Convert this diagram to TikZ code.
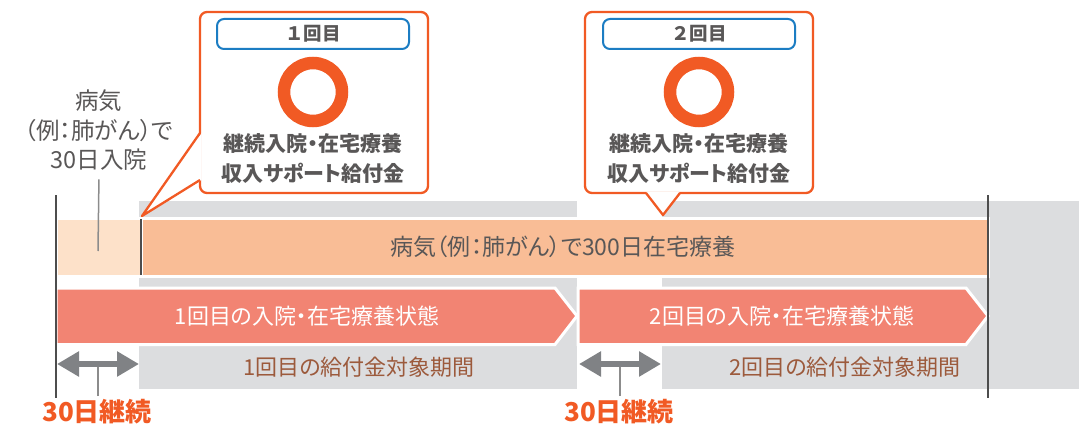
\documentclass[tikz,border=0pt]{standalone}
\usepackage{fontspec}
\setmainfont[RawFeature=+palt]{Noto Sans CJK JP}
\newfontfamily\tagfont{Noto Sans CJK JP}
\usetikzlibrary{arrows.meta,positioning}
\definecolor{bandgray}{RGB}{220,221,223}
\definecolor{peach}{RGB}{253,225,201}
\definecolor{homeorange}{RGB}{249,189,150}
\definecolor{stayred}{RGB}{242,132,115}
\definecolor{linedark}{RGB}{77,77,77}
\definecolor{leadgray}{RGB}{140,140,140}
\definecolor{spangray}{RGB}{128,130,133}
\definecolor{calloutorange}{RGB}{241,90,36}
\definecolor{tagblue}{RGB}{28,125,195}
\definecolor{textgray}{RGB}{89,87,87}
\definecolor{periodbrown}{RGB}{156,90,60}

\begin{document}
\begin{tikzpicture}[
				x=1pt, y=-1pt,
				band/.style={fill=bandgray},
				barbox/.style={draw=white, line width=3pt},
				tick/.style={draw=linedark, line width=2.5pt},
				leader/.style={draw=leadgray, line width=1.5pt},
				span/.style={draw=spangray, line width=6pt, {Triangle[length=22pt,width=24pt]}-{Triangle[length=22pt,width=24pt]}},
				callout/.style={draw=calloutorange, fill=white, line width=2.3pt, line join=round},
				tag/.style={draw=tagblue, line width=2pt, rounded corners=7pt, minimum width=192pt, minimum height=30pt, inner sep=0pt, font=\tagfont\bfseries\fontsize{18.5}{18.5}\selectfont, text=textgray},
				ring/.style={circle, draw=calloutorange, line width=12.5pt, minimum size=58pt, inner sep=0pt},
				benefit/.style={align=center, font=\bfseries\fontsize{21}{30}\selectfont, text=textgray},
				note/.style={align=center, font=\fontsize{23.5}{29.5}\selectfont, text=textgray},
				bartext/.style={font=\fontsize{23}{23}\selectfont, text=textgray},
				staytext/.style={font=\fontsize{22}{22}\selectfont, text=white},
				periodtext/.style={font=\fontsize{22}{22}\selectfont, text=periodbrown},
				daystext/.style={font=\bfseries\fontsize{26}{26}\selectfont, text=calloutorange}
				]
				\useasboundingbox (0,0) rectangle (1079,428);
				
				% benefit periods behind the bars
				\fill[band] (139,201) rectangle (577,389);
				\fill[band] (662,201) rectangle (1079,389);
				
				% illness bar
				\path[fill=peach, barbox] (56,218) rectangle (141,276.5);
				\path[fill=homeorange, barbox] (141,218) rectangle (988,276.5);
				\node[bartext] (homelabel) at (563,247) {病気（例：肺がん）で300日在宅療養};
				
				% hospital / home care states
				\path[fill=stayred, barbox] (56,288) -- (555,288) -- (577,316) -- (555,344.5) -- (56,344.5) -- cycle;
				\path[fill=stayred, barbox] (578,288) -- (966,288) -- (988,316) -- (966,344.5) -- (578,344.5) -- cycle;
				\node[staytext] (stay1) at (307,316) {1回目の入院・在宅療養状態};
				\node[staytext] (stay2) at (782,316) {2回目の入院・在宅療養状態};
				
				\node[periodtext] (period1) at (359,367) {1回目の給付金対象期間};
				\node[periodtext] (period2) at (845,367) {2回目の給付金対象期間};
				
				\draw[tick] (56,195) -- (56,398);
				\draw[tick] (988,195) -- (988,398);
				\draw[tick, line width=2pt] (141,219) -- (141,275);
				
				% first 30 days
				\node[note] (admit) at (99,130.5) {病気\\（例：肺がん）で\\30日入院};
				\coordinate (admitend) at (98,251);
				\draw[leader, shorten <=5pt] (admit.south) -- (admitend);
				
				\node[daystext] (days1) at (97,412) {30日継続};
				\node[daystext] (days2) at (619,412) {30日継続};
				\coordinate (mid1) at (98,364);
				\coordinate (mid2) at (620,364);
				\draw[leader] (days1.north -| mid1) -- (mid1);
				\draw[leader] (days2.north -| mid2) -- (mid2);
				
				\coordinate (span1a) at (57,364);
				\coordinate (span1b) at (139,364);
				\coordinate (span2a) at (579,364);
				\coordinate (span2b) at (661,364);
				\draw[span] (span1a) -- (span1b);
				\draw[span] (span2a) -- (span2b);
				
				% callout 1
				\draw[callout, rounded corners=7pt] (200,12) rectangle (428,193);
				\coordinate (tip1) at (142,216);
				\fill[white] (tip1) -- (201.5,180) -- (201.5,133) -- cycle;
				\draw[calloutorange, line width=2.3pt, line join=round] (200,133) -- (tip1) -- (200,180);
				\node[tag] (tag1) at (313,34) {１回目};
				\node[ring] (mark1) at (313,92) {};
				\node[benefit] (benefit1) at (313,158) {継続入院・在宅療養\\収入サポート給付金};
				
				% callout 2
				\draw[callout, rounded corners=7pt] (585,12) rectangle (813,193);
				\coordinate (tip2) at (663,215);
				\fill[white] (tip2) -- (680,191.5) -- (646,191.5) -- cycle;
				\draw[calloutorange, line width=2.3pt, line join=round] (646,193) -- (tip2) -- (680,193);
				\node[tag] (tag2) at (699,34) {２回目};
				\node[ring] (mark2) at (699,92) {};
				\node[benefit] (benefit2) at (699,158) {継続入院・在宅療養\\収入サポート給付金};
			\end{tikzpicture}
\end{document}
